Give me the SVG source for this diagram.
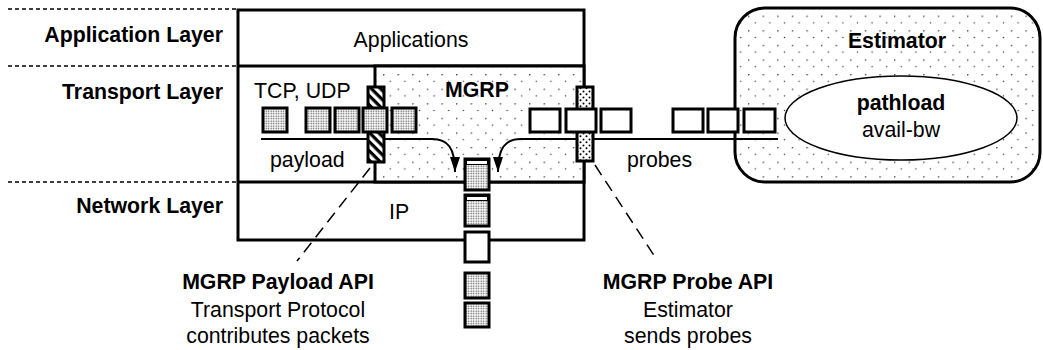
<svg xmlns="http://www.w3.org/2000/svg" width="1043" height="350" viewBox="0 0 1043 350">
<style>
text{font-family:"Liberation Sans",Arial,sans-serif;font-size:21.3px;fill:#000}
.b{font-weight:bold}
.lay{stroke:#000;stroke-width:1.5;stroke-dasharray:4 3;fill:none}
.thick{stroke:#000;stroke-width:3}
.pk{fill:url(#gray);stroke:#000;stroke-width:3}
.pw{fill:#fff;stroke:#000;stroke-width:3}
.ln{stroke:#000;stroke-width:2;fill:none}
.lead{stroke:#000;stroke-width:1.5;stroke-dasharray:12 7;fill:none}
</style>
<defs>
<pattern id="dots" patternUnits="userSpaceOnUse" width="14.6" height="14.6" x="383" y="74">
<rect width="14.6" height="14.6" fill="#fff"/>
<circle cx="0.7" cy="0.7" r="0.8" fill="#444"/>
<circle cx="7.3" cy="7.3" r="0.8" fill="#444"/>
</pattern>
<pattern id="gray" patternUnits="userSpaceOnUse" width="2.5" height="2.5">
<rect width="2.5" height="2.5" fill="#fff"/>
<circle cx="1.2" cy="1.2" r="0.75" fill="#555"/>
</pattern>
<pattern id="hatch" patternUnits="userSpaceOnUse" width="6.5" height="6.5" patternTransform="rotate(45)">
<rect width="6.5" height="6.5" fill="#fff"/>
<rect width="6.5" height="3.2" fill="#000"/>
</pattern>
<pattern id="pdots" patternUnits="userSpaceOnUse" width="6" height="6">
<rect width="6" height="6" fill="#fff"/>
<circle cx="1.5" cy="1.5" r="1" fill="#000"/>
<circle cx="4.5" cy="4.2" r="1" fill="#000"/>
</pattern>
<marker id="ah" markerUnits="userSpaceOnUse" markerWidth="15" markerHeight="10" refX="15" refY="5" viewBox="0 0 15 10" orient="auto">
<path d="M0,0 L15,5 L0,10 z" fill="#000"/>
</marker>
</defs>

<g id="layers">
<line class="lay" x1="8" y1="9" x2="238" y2="9"/>
<line class="lay" x1="8" y1="66" x2="238" y2="66"/>
<line class="lay" x1="8" y1="182" x2="238" y2="182"/>
<text class="b" x="223" y="42" text-anchor="end">Application Layer</text>
<text class="b" x="223" y="99" text-anchor="end">Transport Layer</text>
<text class="b" x="223" y="213" text-anchor="end">Network Layer</text>
</g>

<g id="stack">
<rect x="238" y="10" width="346" height="230" fill="#fff" class="thick"/>
<line class="thick" x1="238" y1="66" x2="584" y2="66"/>
<line class="thick" x1="238" y1="182" x2="584" y2="182"/>
<text x="411" y="47" text-anchor="middle">Applications</text>
<text x="254" y="98">TCP, UDP</text>
<text x="389" y="219">IP</text>
</g>

<g id="mgrp">
<rect x="375" y="66" width="209" height="116" fill="url(#dots)" class="thick"/>
<text class="b" x="445" y="97">MGRP</text>
</g>

<g id="estimator">
<rect x="735" y="8" width="305" height="174" rx="30" ry="30" fill="url(#dots)" class="thick"/>
<text class="b" x="897" y="48" text-anchor="middle">Estimator</text>
<ellipse cx="901" cy="118" rx="116" ry="42" fill="#fff" stroke="#000" stroke-width="1.5"/>
<text class="b" x="901" y="110" text-anchor="middle">pathload</text>
<text x="901" y="137" text-anchor="middle">avail-bw</text>
</g>

<g id="connectors">
<path class="ln" d="M261,139 H432 C448,139 455,148 455,172" marker-end="url(#ah)"/>
<path class="ln" d="M778,139 H521 C505,139 498,148 498,172" marker-end="url(#ah)"/>
<path class="lead" d="M370,168 L297,261"/>
<path class="lead" d="M595,165 L657,260"/>
</g>

<g id="payload-api">
<rect x="368" y="87" width="16" height="75" fill="url(#hatch)" class="thick"/>
<rect class="pk" x="263" y="108" width="24" height="24"/>
<rect class="pk" x="306" y="108" width="24" height="24"/>
<rect class="pk" x="335" y="108" width="24" height="24"/>
<rect class="pk" x="363" y="108" width="24" height="24"/>
<rect class="pk" x="392" y="108" width="24" height="24"/>
<text x="270" y="167">payload</text>
</g>

<g id="probe-api">
<rect x="577" y="87" width="16" height="74" fill="url(#pdots)" class="thick"/>
<rect class="pw" x="530" y="109" width="30" height="23"/>
<rect class="pw" x="566" y="109" width="30" height="23"/>
<rect class="pw" x="601" y="109" width="30" height="23"/>
<rect class="pw" x="673" y="109" width="30" height="23"/>
<rect class="pw" x="708" y="109" width="30" height="23"/>
<rect class="pw" x="744" y="109" width="31" height="23"/>
<text x="627" y="167">probes</text>
</g>

<g id="ip-stream">
<rect class="pk" x="465" y="159" width="24" height="31"/>
<rect x="466.5" y="160.5" width="21" height="4" fill="#fff" stroke="#000" stroke-width="1"/>
<rect class="pk" x="465" y="195" width="24" height="31"/>
<rect x="466.5" y="196.5" width="21" height="4" fill="#fff" stroke="#000" stroke-width="1"/>
<rect class="pw" x="465" y="232" width="24" height="30"/>
<rect class="pk" x="465" y="273" width="24" height="25"/>
<rect class="pk" x="465" y="303" width="24" height="24"/>
</g>

<g id="label-payload">
<text class="b" x="278" y="289" text-anchor="middle">MGRP Payload API</text>
<text x="278" y="317" text-anchor="middle">Transport Protocol</text>
<text x="278" y="343" text-anchor="middle">contributes packets</text>
</g>

<g id="label-probe">
<text class="b" x="688" y="289" text-anchor="middle">MGRP Probe API</text>
<text x="688" y="317" text-anchor="middle">Estimator</text>
<text x="688" y="343" text-anchor="middle">sends probes</text>
</g>
</svg>
